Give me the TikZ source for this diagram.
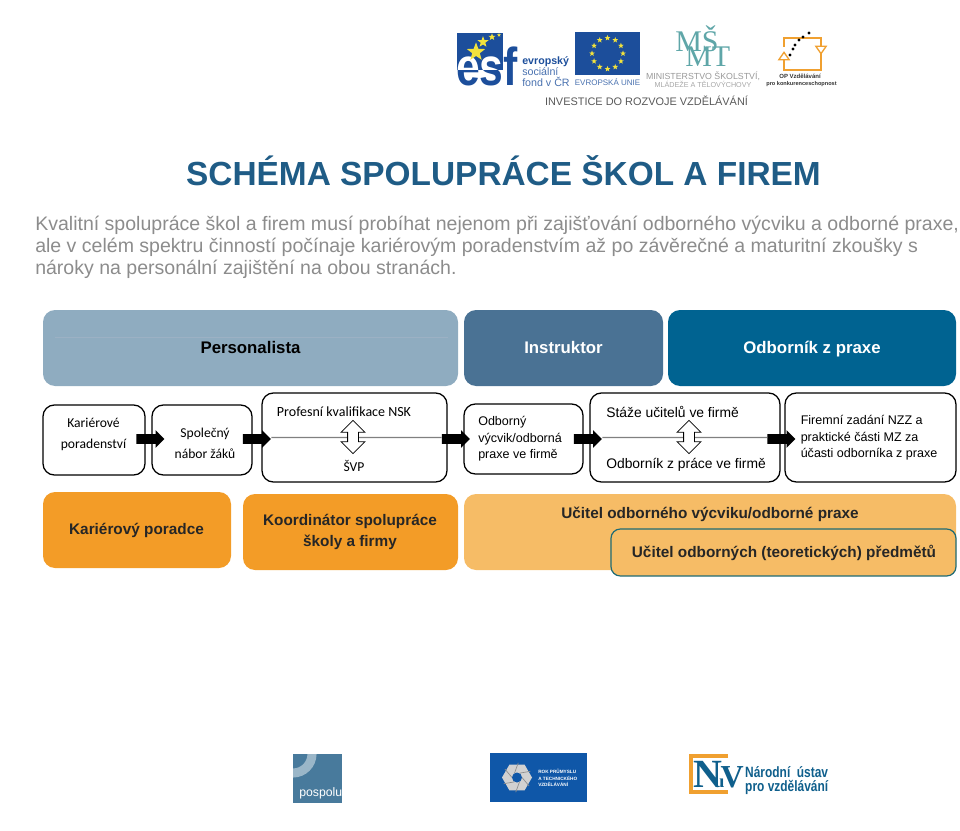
\documentclass[tikz,border=0pt]{standalone}
\usepackage{fontspec}
\setmainfont{Liberation Sans}
\newfontfamily\calfont{Carlito}
\newfontfamily\serfont{Liberation Serif}
\usepackage{xcolor}
\definecolor{tblue}{HTML}{1F5C86}
\definecolor{tgray}{HTML}{8C8C8C}
\definecolor{hlight}{HTML}{8FACC0}
\definecolor{hmid}{HTML}{4A7294}
\definecolor{hdark}{HTML}{006391}
\definecolor{oranged}{HTML}{F39C27}
\definecolor{orangel}{HTML}{F6BC66}
\definecolor{tealb}{HTML}{1F6B75}
\definecolor{esfblue}{HTML}{1C4E9B}
\definecolor{eustar}{HTML}{F2E23C}
\definecolor{msteal}{HTML}{5FA6A8}
\definecolor{oporange}{HTML}{F0A030}
\definecolor{pospolub}{HTML}{487A9C}
\definecolor{rokblue}{HTML}{0F57A8}
\definecolor{nuvblue}{HTML}{0F5F8C}
\usepackage{tikz}
\usetikzlibrary{calc,shapes.arrows,shapes.geometric}
\newcommand{\fsz}[1]{\fontsize{#1}{#1}\selectfont\baselineskip=1.2\baselineskip}

\begin{document}
\begin{tikzpicture}[x=0.75pt,y=-0.75pt,
  head/.style={font=\bfseries\fsz{12.6},inner sep=0pt,anchor=base},
  step box/.style={draw=black,line width=0.95pt,fill=white,rounded corners=8.5pt},
  body/.style={font=\calfont\fsz{10.2},align=center,inner sep=0pt},
  sans/.style={font=\fsz{9.4},align=left,inner sep=0pt,anchor=west},
  role/.style={font=\bfseries\fsz{11.5},align=center,text=black!85,inner sep=0pt},
  block/.style={single arrow,fill=black,inner sep=0pt,minimum height=21pt,
    single arrow head extend=3pt,single arrow tip angle=90},
  updown/.style={double arrow,draw=black,fill=white,line width=0.6pt,rotate=90,inner sep=0pt,
    minimum height=25pt,double arrow head extend=4.9pt},
  divider/.style={draw=black!50,line width=0.9pt},
  para/.style={font=\fsz{14.65},text=tgray,anchor=base west,inner sep=0pt},
  eu star/.style={star,star points=5,star point ratio=2.4,fill=eustar,inner sep=0pt}]
\useasboundingbox (0,0) rectangle (960,831);
% title and intro
\node[font=\bfseries\fsz{25.05},text=tblue,inner sep=0pt] (tTitle) at (503.5,170.5) {SCHÉMA SPOLUPRÁCE ŠKOL A FIREM};
\node[para] (tLineA) at (35,230) {Kvalitní spolupráce škol a firem musí probíhat nejenom při zajišťování odborného výcviku a odborné praxe,};
\node[para] (tLineB) at (35,252) {ale v celém spektru činností počínaje kariérovým poradenstvím až po závěrečné a maturitní zkoušky s};
\node[para] (tLineC) at (35,274) {nároky na personální zajištění na obou stranách.};
% top logos: esf
\node[font=\bfseries\fsz{40},text=esfblue,inner sep=0pt,anchor=base west,xscale=0.8] (lEsf) at (456,86) {esf};
\begin{scope}
  \clip (457,33) rectangle (503,70);
  \fill[esfblue] (457,33) rectangle (503,70);
  \node[font=\bfseries\fsz{40},text=white,inner sep=0pt,anchor=base west,xscale=0.8] (lEsfW) at (456,86) {esf};
\end{scope}
\foreach \sx/\sy/\sr in {476/52/9,483/42/5.5,492/37/3.5,499/35/2}{
  \node[eu star,minimum size=\sr*1.6pt] at (\sx,\sy) {};}
\node[font=\bfseries\fsz{8},text=esfblue,anchor=west,inner sep=0pt] (lEsfA) at (522,62) {evropský};
\node[font=\fsz{8},text=esfblue!80,anchor=west,inner sep=0pt] (lEsfB) at (522,72) {sociální};
\node[font=\fsz{8},text=esfblue!80,anchor=west,inner sep=0pt] (lEsfC) at (522,82) {fond v ČR};
% eu flag
\fill[esfblue] (575,32) rectangle (640,75);
\foreach \a in {0,30,...,330}{
  \node[eu star,minimum size=4.5pt] at ($(607.5,53.5)+(\a:15.5)$) {};}
\node[font=\fsz{6},text=esfblue!80,inner sep=0pt] (lEu) at (607.5,82) {EVROPSKÁ UNIE};
% msmt
\node[font=\serfont\fsz{22.5},text=msteal,inner sep=0pt,anchor=base west] (lMs) at (675,52) {MŠ};
\node[font=\serfont\fsz{22.5},text=msteal,inner sep=0pt,anchor=base west] (lMt) at (685,67) {MT};
\node[font=\fsz{6.6},text=black!40,inner sep=0pt] (lMinA) at (703,76) {MINISTERSTVO ŠKOLSTVÍ,};
\node[font=\fsz{5.4},text=black!35,inner sep=0pt] (lMinB) at (703,84) {MLÁDEŽE A TĚLOVÝCHOVY};
% op logo
\draw[oporange,line width=1.8pt] (784,58) -- (784,70) -- (821,70) -- (821,38) -- (784,38) -- (784,47);
\node[isosceles triangle,isosceles triangle apex angle=70,draw=oporange,fill=white,line width=1pt,shape border rotate=90,inner sep=0pt,minimum size=5.5pt] (lOpUp) at (784,57) {};
\node[isosceles triangle,isosceles triangle apex angle=70,draw=oporange,fill=white,line width=1pt,shape border rotate=-90,inner sep=0pt,minimum size=5.5pt] (lOpDn) at (821,49) {};
\foreach \dx/\dy in {790/55,793/49,795/45,799/40,803/37,809/33}{
  \fill[black] (\dx,\dy) circle (1.6);}
\node[font=\bfseries\fsz{4.5},text=black!80,inner sep=0pt] (lOpA) at (800,76) {OP Vzdělávání};
\node[font=\bfseries\fsz{4.2},text=black!80,inner sep=0pt] (lOpB) at (801.5,84) {pro konkurenceschopnost};
\node[font=\fsz{8.2},text=black!65,inner sep=0pt] (lInv) at (646.5,101) {INVESTICE DO ROZVOJE VZDĚLÁVÁNÍ};
% header row
\fill[hlight,rounded corners=9pt] (43,310) rectangle (458,386);
\draw[hmid!55,line width=0.4pt] (55,337) -- (448,337);
\node[head,text=black] (nPers) at (250.5,353) {Personalista};
\fill[hmid,rounded corners=9pt] (464,310) rectangle (663,386);
\node[head,text=white] (nInstr) at (563.5,353) {Instruktor};
\fill[hdark,rounded corners=9pt] (668,310) rectangle (956,386);
\node[head,text=white] (nOdb) at (812,353) {Odborník z praxe};
% process row
\draw[step box] (43,405) rectangle (145,475);
\node[body] (sKar) at (93.5,434.5) {Kariérové\\[3.5pt]poradenství};
\draw[step box] (152,405) rectangle (252,475);
\node[body] (sNab) at (205,443.5) {Společný\\[3.5pt]nábor žáků};
\draw[step box] (262,393) rectangle (447,482);
\node[body,font=\calfont\fsz{10.5}] (sNsk) at (344,412) {Profesní kvalifikace NSK};
\node[body] (sSvp) at (354,466) {ŠVP};
\draw[step box] (464,404) rectangle (583,474);
\node[sans] (sVyc) at (478,439) {Odborný\\[1pt]výcvik/odborná\\[1pt]praxe ve firmě};
\draw[step box] (590,393) rectangle (780,482);
\node[sans,font=\fsz{10.4}] (sSta) at (606,412) {Stáže učitelů ve firmě};
\node[sans,font=\fsz{10.4}] (sPra) at (606,465) {Odborník z práce ve firmě};
\draw[step box] (785,393) rectangle (956,482);
\node[sans] (sZad) at (800.5,438) {Firemní zadání NZZ a\\[1pt]praktické části MZ za\\[1pt]účasti odborníka z praxe};
% arrows
\foreach \nm/\ax in {aA/148,aB/254.5,aC/453.5,aD/585.5,aE/779}{
  \node[block] (\nm) at (\ax,439) {\rule{0pt}{6.75pt}};}
\draw[divider] ($(aB.east)+(0,-1.5)$) -- ($(aC.west)+(0,-1.5)$);
\draw[divider] ($(aD.east)+(0,-1.5)$) -- ($(aE.west)+(0,-1.5)$);
\node[updown] (dA) at (353,437) {\rule{0pt}{7.5pt}};
\node[updown] (dB) at (689,437) {\rule{0pt}{7.5pt}};
% roles
\fill[oranged,rounded corners=9pt] (43,492) rectangle (231,568);
\node[role] (rKar) at (136.5,530) {Kariérový poradce};
\fill[oranged,rounded corners=9pt] (243,494) rectangle (458,570);
\node[role] (rKoo) at (350,532) {Koordinátor spolupráce\\[1.6pt]školy a firmy};
\fill[orangel,rounded corners=9pt] (464,494) rectangle (956,570);
\node[role] (rUov) at (710,514.5) {Učitel odborného výcviku/odborné praxe};
\draw[draw=tealb,fill=orangel,line width=0.9pt,rounded corners=7pt] (611,529) rectangle (956,576);
\node[role] (rTeo) at (784,552.5) {Učitel odborných (teoretických) předmětů};
% bottom logos: pospolu
\fill[pospolub] (293,754) rectangle (342,803);
\begin{scope}
  \clip (293,754) rectangle (342,803);
  \draw[pospolub!55!white,line width=6.8pt] (293,754) circle (19);
\end{scope}
\node[font=\fsz{9.2},text=white,anchor=base west,inner sep=0pt] (lPos) at (299,796) {pospolu};
% rok
\fill[rokblue] (490,753) rectangle (587,802);
\node[regular polygon,regular polygon sides=6,fill=black!18,inner sep=0pt,minimum size=22.5pt] (lHex) at (517,777.5) {};
\foreach \a in {0,60,...,300}{
  \draw[black!45,line width=0.5pt] (lHex.center) ++(\a:5) -- ++(\a+50:11);}
\fill[rokblue] (lHex.center) circle (5);
\node[font=\bfseries\fsz{3.5},text=white,align=left,anchor=west,inner sep=0pt] (lRok) at (538,778) {ROK PRŮMYSLU\\[0.5pt]A TECHNICKÉHO\\[0.5pt]VZDĚLÁVÁNÍ};
% nuv
\draw[oporange,line width=3pt] (728,756) -- (691,756) -- (691,791.5) -- (728,791.5);
\node[font=\serfont\bfseries\fsz{30},text=nuvblue,anchor=base west,inner sep=0pt] (lNuv) at (693,787) {N\kern-6pt\fsz{14}u\kern-3pt\fsz{24}V};
\node[font=\bfseries\fsz{11.2},text=nuvblue,anchor=west,inner sep=0pt,xscale=0.8] (lNua) at (745,772) {Národní\kern3pt{} ústav};
\node[font=\bfseries\fsz{11.2},text=nuvblue,anchor=west,inner sep=0pt,xscale=0.8] (lNub) at (745,787) {pro vzdělávání};
\end{tikzpicture}
\end{document}
